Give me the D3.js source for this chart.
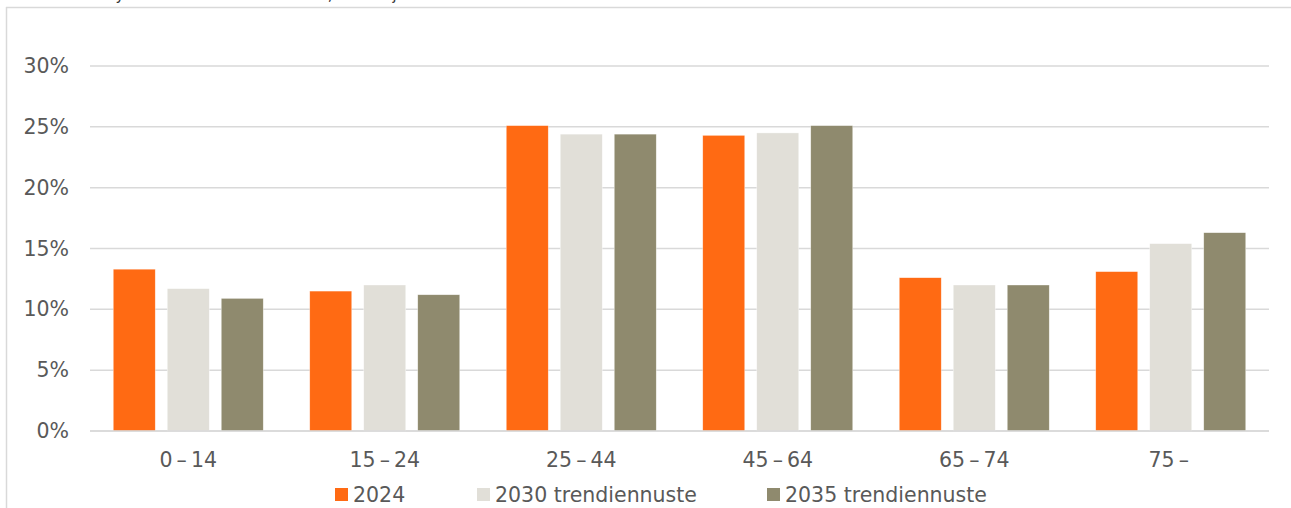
<!DOCTYPE html>
<html>
<head>
<meta charset="utf-8">
<script src="https://cdn.jsdelivr.net/npm/d3@7"></script>
<style>
  html, body { margin: 0; padding: 0; background: #fff; }
  svg { display: block; }
  text { font-family: "DejaVu Sans", Verdana, sans-serif; }
</style>
</head>
<body>
<script>
// ---- data ----
const categories = ["0–14", "15–24", "25–44", "45–64", "65–74", "75–"];
const seriesNames = ["2024", "2030 trendiennuste", "2035 trendiennuste"];
const values2024 = [13.3, 11.5, 25.1, 24.3, 12.6, 13.1];
const values2030 = [11.7, 12.0, 24.4, 24.5, 12.0, 15.4];
const values2035 = [10.9, 11.2, 24.4, 25.1, 12.0, 16.3];
const yTicks = [0, 5, 10, 15, 20, 25, 30];
const titleText = "Väestö ikäryhmittäin Pirkanmaalla, 2024 ja trendiennusteet 2030–2035";

const seriesValues = [values2024, values2030, values2035];
const colors = ["#ff6a13", "#e1dfd8", "#8f8a6e"];

const W = 1291, H = 508;
const FS = 20.5;
const svg = d3.select("body").append("svg").attr("width", W).attr("height", H);

// clipped title (only its lower edge is visible in the frame, as in the reference)
svg.append("text")
  .attr("x", 13).attr("y", -0.5)
  .attr("font-size", 15).attr("fill", "#333")
  .attr("textLength", 654).attr("lengthAdjust", "spacing")
  .text(titleText);

// chart frame
svg.append("line").attr("x1", 6.5).attr("x2", 6.5).attr("y1", 7).attr("y2", H)
  .attr("stroke", "#d9d9d9").attr("stroke-width", 1.5);
svg.append("line").attr("x1", 6).attr("x2", W).attr("y1", 7.5).attr("y2", 7.5)
  .attr("stroke", "#d9d9d9").attr("stroke-width", 1.5);

const plotL = 90, plotR = 1269, plotT = 66, plotB = 431;

const x0 = d3.scaleBand().domain(categories).range([plotL, plotR]).padding(0);
const groupW = 150;
const x1 = d3.scaleBand().domain(seriesNames).range([0, groupW])
  .paddingInner(12 / 54).paddingOuter(0);
const y = d3.scaleLinear().domain([0, 30]).range([plotB, plotT]);

// gridlines
svg.append("g").selectAll("line").data(yTicks).join("line")
  .attr("x1", plotL).attr("x2", plotR)
  .attr("y1", d => y(d)).attr("y2", d => y(d))
  .attr("stroke", "#d9d9d9").attr("stroke-width", 1.5);

// y-axis labels
const yAxis = d3.axisLeft(y).tickValues(yTicks).tickFormat(d => d + "%").tickSize(0).tickPadding(0);
const gy = svg.append("g").attr("transform", `translate(69,0)`).call(yAxis);
gy.select(".domain").remove();
gy.selectAll("text").attr("font-size", FS).attr("fill", "#595959")
  .attr("font-family", "DejaVu Sans, sans-serif");

// bars
const off = (x0.bandwidth() - groupW) / 2;
seriesNames.forEach((s, si) => {
  svg.append("g").selectAll("rect").data(seriesValues[si]).join("rect")
    .attr("x", (d, i) => x0(categories[i]) + off + x1(s))
    .attr("width", x1.bandwidth())
    .attr("y", d => y(d))
    .attr("height", d => y(0) - y(d))
    .attr("fill", colors[si])
    .attr("stroke", "#ffffff").attr("stroke-width", 0.6).attr("stroke-opacity", 0.6);
});

// bottom axis line
svg.append("line").attr("x1", plotL).attr("x2", plotR)
  .attr("y1", plotB).attr("y2", plotB)
  .attr("stroke", "#d9d9d9").attr("stroke-width", 1.5);

// x labels
const xAxis = d3.axisBottom(x0).tickSize(0).tickPadding(0);
const gx = svg.append("g").attr("transform", `translate(0,${plotB + 21})`).call(xAxis);
gx.select(".domain").remove();
gx.selectAll("text").attr("font-size", FS).attr("fill", "#595959")
  .attr("font-family", "DejaVu Sans, sans-serif")
  .text(d => d.replace("–", "\u2009–\u2009"));

// legend
const legendX = [335, 477, 767];
const lg = svg.append("g");
seriesNames.forEach((s, i) => {
  lg.append("rect").attr("x", legendX[i]).attr("y", 488).attr("width", 13).attr("height", 13)
    .attr("fill", colors[i]);
  lg.append("text").attr("x", legendX[i] + 18).attr("y", 502)
    .attr("font-size", FS).attr("fill", "#595959").text(s);
});
</script>
</body>
</html>
